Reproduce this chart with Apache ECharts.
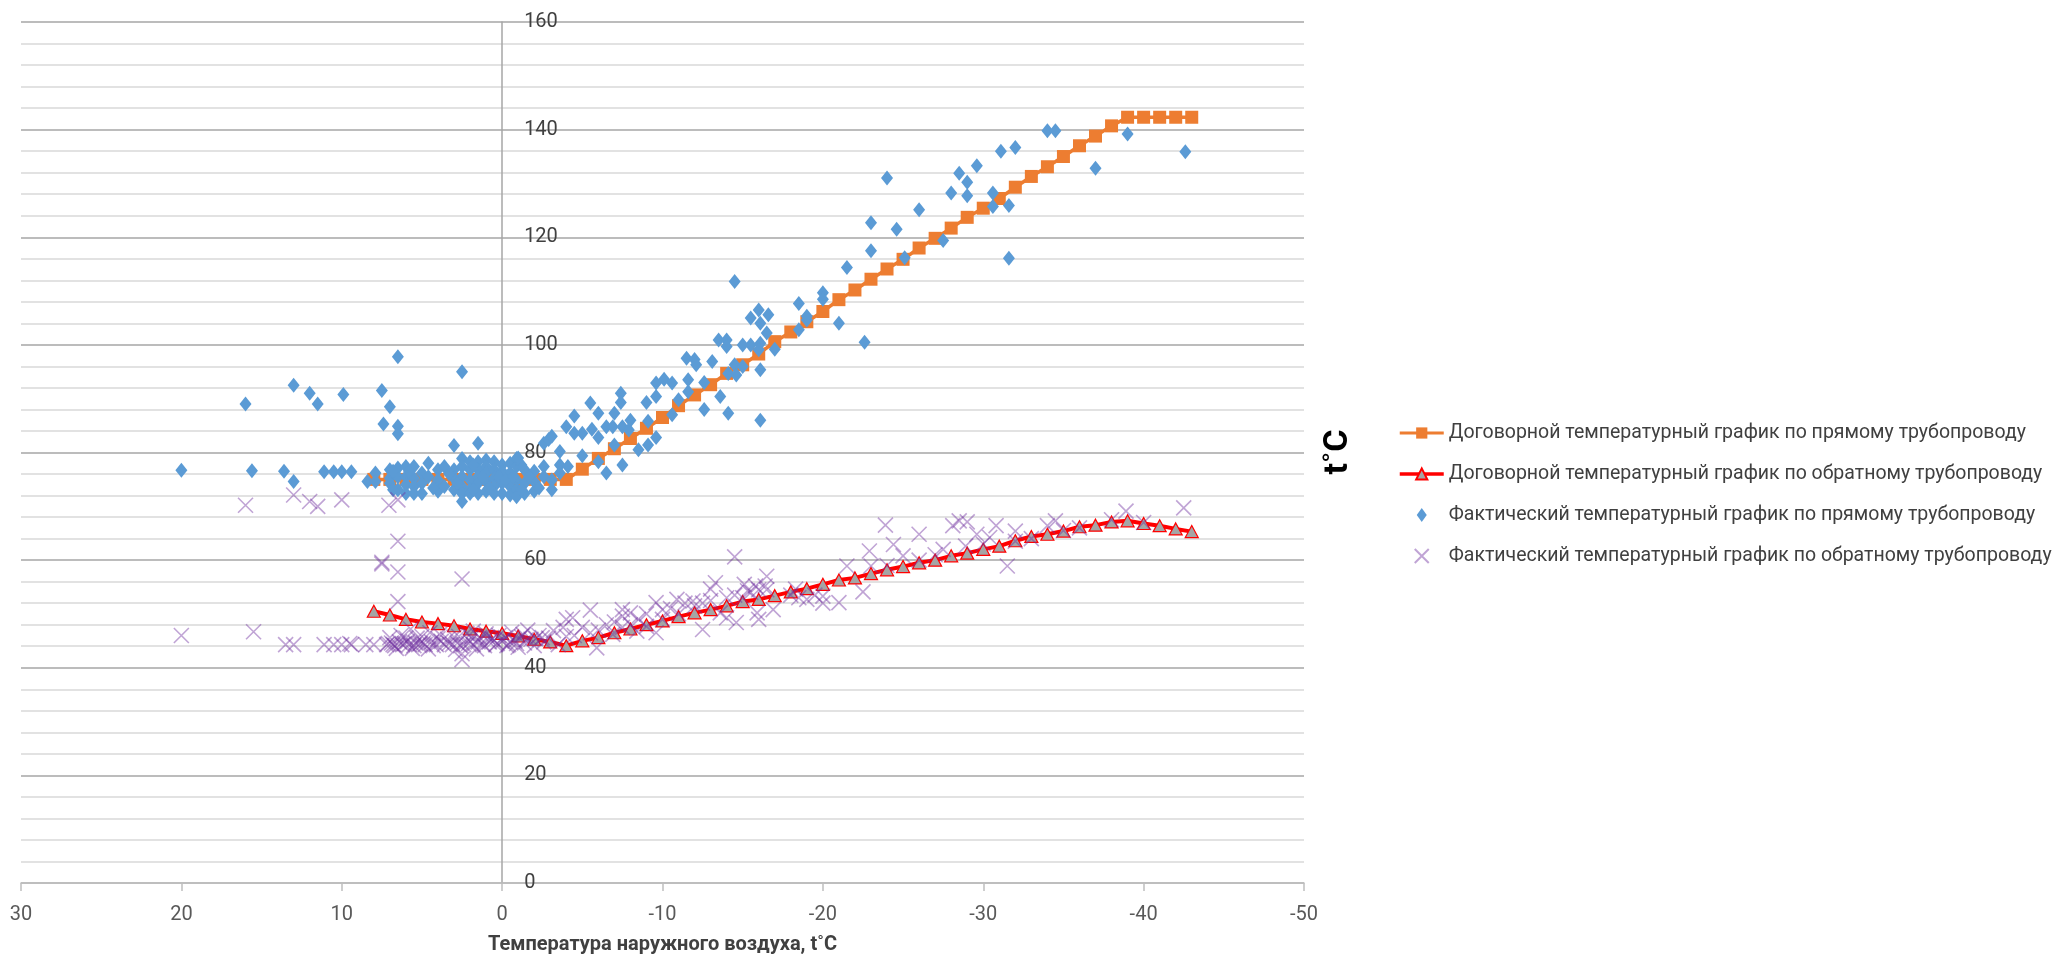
<!DOCTYPE html>
<html>
<head>
<meta charset="utf-8">
<title>Температурный график</title>
<script src="https://cdn.jsdelivr.net/npm/echarts@6/dist/echarts.min.js"></script>
<style>
  html, body { margin: 0; padding: 0; background: #ffffff; }
  #chart { width: 2069px; height: 960px; }
</style>
</head>
<body>
<div id="chart"></div>
<script>
// Outdoor air temperature, °C (x values of the contract schedules)
const contractTemps = [8, 7, 6, 5, 4, 3, 2, 1, 0, -1, -2, -3, -4, -5, -6, -7, -8, -9, -10,
  -11, -12, -13, -14, -15, -16, -17, -18, -19, -20, -21, -22, -23, -24, -25, -26, -27, -28,
  -29, -30, -31, -32, -33, -34, -35, -36, -37, -38, -39, -40, -41, -42, -43];

// Contract schedule, supply pipeline, °C
const supplyContract = [75, 75, 75, 75, 75, 75, 75, 75, 75, 75, 75, 75, 75, 76.9, 78.9, 80.7,
  82.6, 84.5, 86.5, 88.7, 90.7, 92.6, 94.7, 96.3, 98.3, 100.6, 102.4, 104.3, 106.2, 108.4,
  110.2, 112.2, 114.1, 115.9, 118, 119.8, 121.7, 123.7, 125.4, 127.2, 129.3, 131.3, 133.1,
  135, 137, 138.8, 140.7, 142.3, 142.3, 142.3, 142.3, 142.3];

// Contract schedule, return pipeline, °C
const returnContract = [50.5, 49.8, 49.0, 48.5, 48.2, 47.8, 47.2, 46.8, 46.4, 45.9, 45.3,
  44.8, 44.1, 45.0, 45.6, 46.5, 47.2, 48.0, 48.7, 49.5, 50.2, 50.8, 51.5, 52.3, 52.7, 53.4,
  54.1, 54.7, 55.5, 56.3, 56.7, 57.5, 58.2, 58.8, 59.5, 60.0, 60.8, 61.3, 62.0, 62.6, 63.6,
  64.4, 64.8, 65.4, 66.2, 66.5, 67.1, 67.3, 66.8, 66.4, 65.8, 65.3];

// Measured supply temperatures: [outdoor t, supply t]
const supplyActual = [
  [20, 76.7], [16, 89], [15.6, 76.6], [13.6, 76.5], [13, 92.5], [13, 74.6], [12, 91],
  [11.5, 89], [11.1, 76.4], [10.5, 76.4], [10, 76.4], [9.9, 90.8], [9.4, 76.4], [8.4, 74.6],
  [7.9, 76.2], [7.5, 91.5], [7.4, 85.3], [7, 88.5], [6.5, 84.9], [6.5, 83.5], [6.5, 97.8],
  [2.5, 95], [3, 81.3], [1.5, 81.7], [2.5, 70.9],
  [7.9, 74.6], [7.0, 76.8], [7.0, 75.2], [7.0, 74.3], [6.5, 77.1], [6.5, 75.5], [6.5, 73.1],
  [6.0, 77.4], [6.0, 75.5], [6.0, 74.0], [6.0, 72.4], [5.5, 77.4], [5.5, 75.2], [5.5, 73.7],
  [5.5, 72.4], [5.0, 76.2], [5.0, 74.3], [5.0, 72.4], [4.6, 78.0], [4.6, 75.5], [4.0, 76.8],
  [4.0, 74.9], [4.0, 72.8], [3.6, 77.4], [3.6, 73.7], [3.0, 76.8], [3.0, 75.2], [3.0, 73.1],
  [2.5, 78.9], [2.5, 77.4], [2.5, 75.5], [2.5, 73.7], [2.5, 72.4], [2.0, 78.3], [2.0, 76.8],
  [2.0, 74.9], [2.0, 73.1], [2.0, 72.4], [1.5, 78.3], [1.5, 76.8], [1.5, 75.5], [1.5, 74.3],
  [1.5, 72.4], [1.0, 78.6], [1.0, 77.4], [1.0, 76.2], [1.0, 74.6], [1.0, 72.8], [0.5, 78.3],
  [0.5, 76.8], [0.5, 75.2], [0.5, 73.7], [0.5, 72.4], [0.0, 77.7], [0.0, 76.5], [0.0, 74.3],
  [0.0, 72.4], [-0.5, 78.0], [-0.5, 76.2], [-0.5, 73.7], [-0.5, 72.1], [-0.9, 78.9],
  [-0.9, 77.4], [-0.9, 74.9], [-0.9, 73.1], [-0.9, 71.8], [-1.4, 76.8], [-1.4, 74.3],
  [-1.4, 72.4], [-2.0, 76.5], [-2.0, 74.6], [-2.0, 72.8], [-2.6, 77.4], [-2.6, 75.5],
  [-3.1, 74.9], [-3.1, 73.1], [-3.6, 77.7], [-3.6, 76.2], [-4.1, 77.4],
  [6.8, 76.5], [6.8, 73.1], [5.8, 76.5], [4.3, 73.4], [3.3, 76.0], [2.8, 74.3], [1.8, 77.7],
  [1.8, 73.1], [1.2, 75.5], [0.8, 73.4], [0.2, 75.5], [-0.2, 74.9], [-0.7, 75.5],
  [-1.2, 77.7], [-1.2, 73.1], [-1.7, 75.5], [-2.3, 73.4],
  [-1, 79], [-2.6, 81.7], [-2.9, 82.4], [-3.1, 83], [-3.6, 80.2], [-4, 84.8], [-4.5, 86.8],
  [-4.5, 83.6], [-5, 83.6], [-5, 79.4], [-5.5, 89.2], [-5.6, 84.3], [-6, 87.3], [-6, 82.8],
  [-6, 78.3], [-6.5, 84.8], [-6.5, 76.2], [-6.9, 84.8], [-7, 87.3], [-7, 81.4], [-7.4, 91],
  [-7.4, 89.3], [-7.5, 84.8], [-7.5, 77.7], [-8, 86], [-7.9, 84.2], [-8.5, 80.5], [-9, 89.3],
  [-9.1, 85.8], [-9.1, 81.4], [-9.6, 92.9], [-9.6, 90.4], [-9.6, 82.8], [-10.1, 93.6],
  [-10.6, 92.9], [-10.6, 87], [-11, 89.8], [-11.5, 97.5], [-12, 97.3], [-12.1, 96.3],
  [-11.6, 93.5], [-11.6, 91.3], [-12.6, 93], [-12.6, 88], [-13.1, 96.9], [-13.6, 90.4],
  [-14.1, 87.3], [-13.5, 100.9], [-14, 100.9], [-14, 99.7], [-14.5, 96.3], [-14.1, 94.7],
  [-15, 100], [-14.6, 94.4], [-15, 96], [-14.5, 111.8], [-15.5, 105], [-15.5, 100],
  [-16, 106.5], [-16.1, 104], [-16.6, 105.6], [-16.5, 102.2], [-16.1, 100.3], [-16, 99.1],
  [-16.1, 95.4], [-16.1, 86], [-17, 99.2], [-18.5, 102.8], [-18.5, 107.7], [-19, 104.6],
  [-19, 105.3], [-20, 109.7], [-20, 108.5], [-21, 104], [-21.5, 114.4], [-22.6, 100.5],
  [-23, 122.7], [-23, 117.5], [-24, 131], [-24.6, 121.5], [-25.1, 116.2], [-26, 125.1],
  [-27.5, 119.4], [-28, 128.2], [-28.5, 131.9], [-29, 130.2], [-29, 127.7], [-29.6, 133.3],
  [-30.6, 128.2], [-30.6, 125.7], [-31.1, 136], [-31.6, 125.9], [-31.6, 116.1], [-32, 136.7],
  [-34, 139.8], [-34.5, 139.8], [-37, 132.8], [-39, 139.2], [-42.6, 135.9]
];

// Measured return temperatures: [outdoor t, return t]
const returnActual = [
  [20, 46], [16, 70.2], [15.5, 46.7], [13.5, 44.3], [13, 44.3], [13, 72.1], [12, 70.9],
  [11.5, 70], [11.1, 44.3], [10.5, 44.3], [10, 71.2], [10, 44.3], [9.4, 44.3], [9.5, 44.5],
  [8.5, 44.3], [8, 44.3], [7.5, 59.3], [7.5, 59.6], [7.06, 70.2], [6.5, 71.2], [6.5, 63.5],
  [6.5, 57.8], [6.5, 52.3], [2.5, 56.5], [2.5, 41.5], [2.5, 42.6],
  [7.2, 44.3], [7, 45.6], [6.8, 44.3], [6.6, 43.6], [6.4, 44.8], [6.2, 44.3], [6, 45.5],
  [5.8, 44.3], [5.6, 43.6], [5.4, 44.6], [5.2, 44.3], [5, 45.8], [4.8, 44.3], [4.6, 43.5],
  [4.4, 44.8], [4.1, 44.3], [3.9, 46.2], [3.6, 44.3], [3.4, 45.3], [3.1, 44.3], [2.9, 43.4],
  [2.7, 45.8], [2.4, 44.3], [2.2, 46.4], [2, 44.9], [1.8, 44.3], [1.6, 43.5], [1.4, 45.6],
  [1.2, 44.3], [1, 46.3], [0.8, 44.8], [0.6, 45.4], [0.4, 44.3], [0.2, 46], [0, 44.9],
  [-0.2, 45.6], [-0.4, 44.3], [-0.6, 46.6], [-0.8, 45], [-1, 43.8], [-1.2, 45.8],
  [-1.4, 44.6], [-1.6, 47], [-1.8, 45.3], [-2, 44.1], [-2.3, 46], [-2.6, 44.8], [-2.9, 45.5],
  [-3.2, 46.9], [-3.5, 44.3], [-3.8, 47.5], [-4, 45.8], [1.8, 46.8], [4.5, 46.5], [5.7, 47.2],
  [6.3, 46], [6.9, 44.6], [5.9, 44.9], [4.9, 44.6], [3.8, 44.9], [2.8, 44.6], [1.5, 44.8],
  [0.5, 45.1], [-0.5, 44.8], [-1.5, 45.2], [-2.5, 45.6],
  [7.1, 44.5], [6.7, 44.1], [6.1, 44.5], [5.5, 44.1], [5.1, 44.5], [4.3, 44.1], [3.3, 44.5],
  [2.6, 44.1], [2.1, 44.5], [1.1, 44.1], [0.3, 44.5], [-0.3, 44.1], [-0.9, 44.5],
  [-1.3, 46.2], [-2.1, 45.4], [0.9, 45.7], [1.9, 45.6], [3, 45.7], [4, 45.4], [5.3, 45.5],
  [-4, 49], [-4.4, 49.3], [-5.5, 50.7], [-5.9, 43.7], [-5.5, 46.5], [-6.9, 46.2],
  [-7.5, 50.8], [-7.5, 49.6], [-8, 50.2], [-8.4, 46.8], [-9, 47.7], [-9.6, 52.1],
  [-9.6, 46.5], [-10, 50.8], [-10.9, 52.7], [-11.4, 52], [-11.9, 52.4], [-12.5, 47.1],
  [-13, 54.6], [-13.3, 55.8], [-13.6, 50.2], [-14, 49.3], [-14.5, 60.6], [-14.6, 48.4],
  [-15.1, 55.5], [-15.3, 54.3], [-15.8, 55.2], [-15.9, 50.2], [-16, 49], [-16.5, 57],
  [-16.4, 55.2], [-16.9, 50.8], [-18.3, 54.6], [-19, 52.7], [-20, 53.3], [-20, 52],
  [-21, 52.1], [-21.5, 58.9], [-22.5, 54.1], [-22.9, 61.7], [-23, 58.9], [-23.9, 66.5],
  [-24.4, 62.9], [-25, 60.8], [-26, 64.8], [-27.5, 62], [-28.1, 66.4], [-28.5, 67.3],
  [-29, 67.1], [-28.9, 62.6], [-29.6, 64.8], [-30.4, 64.2], [-30.8, 66.4], [-31.5, 58.9],
  [-32, 65.4], [-34, 66.4], [-34.5, 67.3], [-38.9, 69.1], [-42.5, 69.7],
  [-4.5, 46], [-5, 47.5], [-6, 47], [-6.5, 48], [-7, 48.5], [-7.5, 47.5], [-8, 48],
  [-8.5, 49], [-9, 50], [-10, 49], [-10.5, 51], [-11, 50], [-12, 51.5], [-12.5, 52],
  [-13, 52.5], [-14, 53], [-14.5, 53.5], [-15, 53], [-15.5, 54], [-16, 54.5], [-16.5, 54.5],
  [-18, 53.5], [-18.5, 53], [-19.5, 53.5], [-24, 59], [-26, 60], [-27, 61], [-30, 63],
  [-32, 63.5], [-33, 64], [-35, 65.5], [-36, 66], [-38, 67.5], [-40, 67]
];

const seriesNames = [
  'Договорной температурный график по прямому трубопроводу',
  'Договорной температурный график по обратному трубопроводу',
  'Фактический температурный график по прямому трубопроводу',
  'Фактический температурный график по обратному трубопроводу'
];

const xTitle = 'Температура наружного воздуха, t˚C';
const yTitle = 't˚C';

const FONT = "Roboto, 'Noto Sans', sans-serif";
const DIAMOND = 'path://M5,0L10,7L5,14L0,7Z';
const CROSS = 'path://M0,0L10,10M10,0L0,10';

const zip = (xs, ys) => xs.map((x, i) => [x, ys[i]]);

const chart = echarts.init(document.getElementById('chart'), null, { renderer: 'canvas' });

const GRID = { left: 21, right: 765, top: 22, bottom: 76 };
const X_MIN = -50, X_MAX = 30;
// the value axis crosses the x axis at 0 °C; shift it there from the grid's left edge
const plotWidth = 2069 - GRID.left - GRID.right;
const yAxisShift = plotWidth * (X_MAX - 0) / (X_MAX - X_MIN);

chart.setOption({
  animation: false,
  backgroundColor: '#ffffff',
  textStyle: { fontFamily: FONT },
  grid: Object.assign({ containLabel: false }, GRID),
  xAxis: {
    type: 'value',
    min: X_MIN,
    max: X_MAX,
    interval: 10,
    inverse: true,
    name: xTitle,
    nameLocation: 'middle',
    nameGap: 52,
    nameTextStyle: { fontFamily: FONT, fontWeight: 'bold', fontSize: 20, color: '#404040' },
    axisLine: { show: true, onZero: true, lineStyle: { color: '#bfbfbf', width: 1.5 } },
    axisTick: { show: true, length: 8, lineStyle: { color: '#bfbfbf', width: 1.5 } },
    axisLabel: { fontFamily: FONT, fontSize: 20, color: '#595959', margin: 22 },
    splitLine: { show: false }
  },
  yAxis: {
    type: 'value',
    min: 0,
    max: 160,
    interval: 20,
    offset: -yAxisShift,
    axisLine: { show: true, onZero: false, lineStyle: { color: '#a6a6a6', width: 1.5 } },
    axisTick: { show: false },
    axisLabel: { inside: true, margin: 22, fontFamily: FONT, fontSize: 20, color: '#404040' },
    splitLine: { show: true, lineStyle: { color: '#a6a6a6', width: 1.5 } },
    minorTick: { show: false, splitNumber: 5 },
    minorSplitLine: { show: true, lineStyle: { color: '#d9d9d9', width: 1.5 } }
  },
  legend: {
    orient: 'vertical',
    left: 1393,
    top: 418,
    itemWidth: 44,
    itemHeight: 14,
    itemGap: 21,
    symbolKeepAspect: true,
    textStyle: { fontFamily: FONT, fontSize: 19.5, lineHeight: 20, color: '#404040' },
    data: [
      { name: seriesNames[0], lineStyle: { width: 3 } },
      { name: seriesNames[1], lineStyle: { width: 3.5 } },
      { name: seriesNames[2] },
      { name: seriesNames[3] }
    ]
  },
  graphic: [{
    type: 'text',
    x: 1338,
    y: 452,
    rotation: Math.PI / 2,
    style: {
      text: yTitle,
      font: "bold 34px " + FONT,
      fill: '#000000',
      align: 'center',
      verticalAlign: 'middle'
    }
  }],
  series: [
    {
      name: seriesNames[0],
      type: 'line',
      data: zip(contractTemps, supplyContract),
      symbol: 'rect',
      symbolSize: 13,
      lineStyle: { color: '#ed7d31', width: 3.5 },
      itemStyle: { color: '#ed7d31' },
      z: 2
    },
    {
      name: seriesNames[1],
      type: 'line',
      data: zip(contractTemps, returnContract),
      symbol: 'triangle',
      symbolSize: [13, 12],
      lineStyle: { color: '#ff0000', width: 4 },
      itemStyle: { color: '#a5a5a5', borderColor: '#ff0000', borderWidth: 1.2 },
      z: 2
    },
    {
      name: seriesNames[2],
      type: 'scatter',
      data: supplyActual,
      symbol: DIAMOND,
      symbolSize: [12, 15],
      itemStyle: { color: '#5b9bd5', opacity: 1 },
      z: 3
    },
    {
      name: seriesNames[3],
      type: 'scatter',
      data: returnActual,
      symbol: CROSS,
      symbolSize: 15,
      itemStyle: { color: 'rgba(0,0,0,0)', borderColor: 'rgba(112,48,160,0.55)', borderWidth: 1.6 },
      z: 4
    }
  ]
});
</script>
</body>
</html>
